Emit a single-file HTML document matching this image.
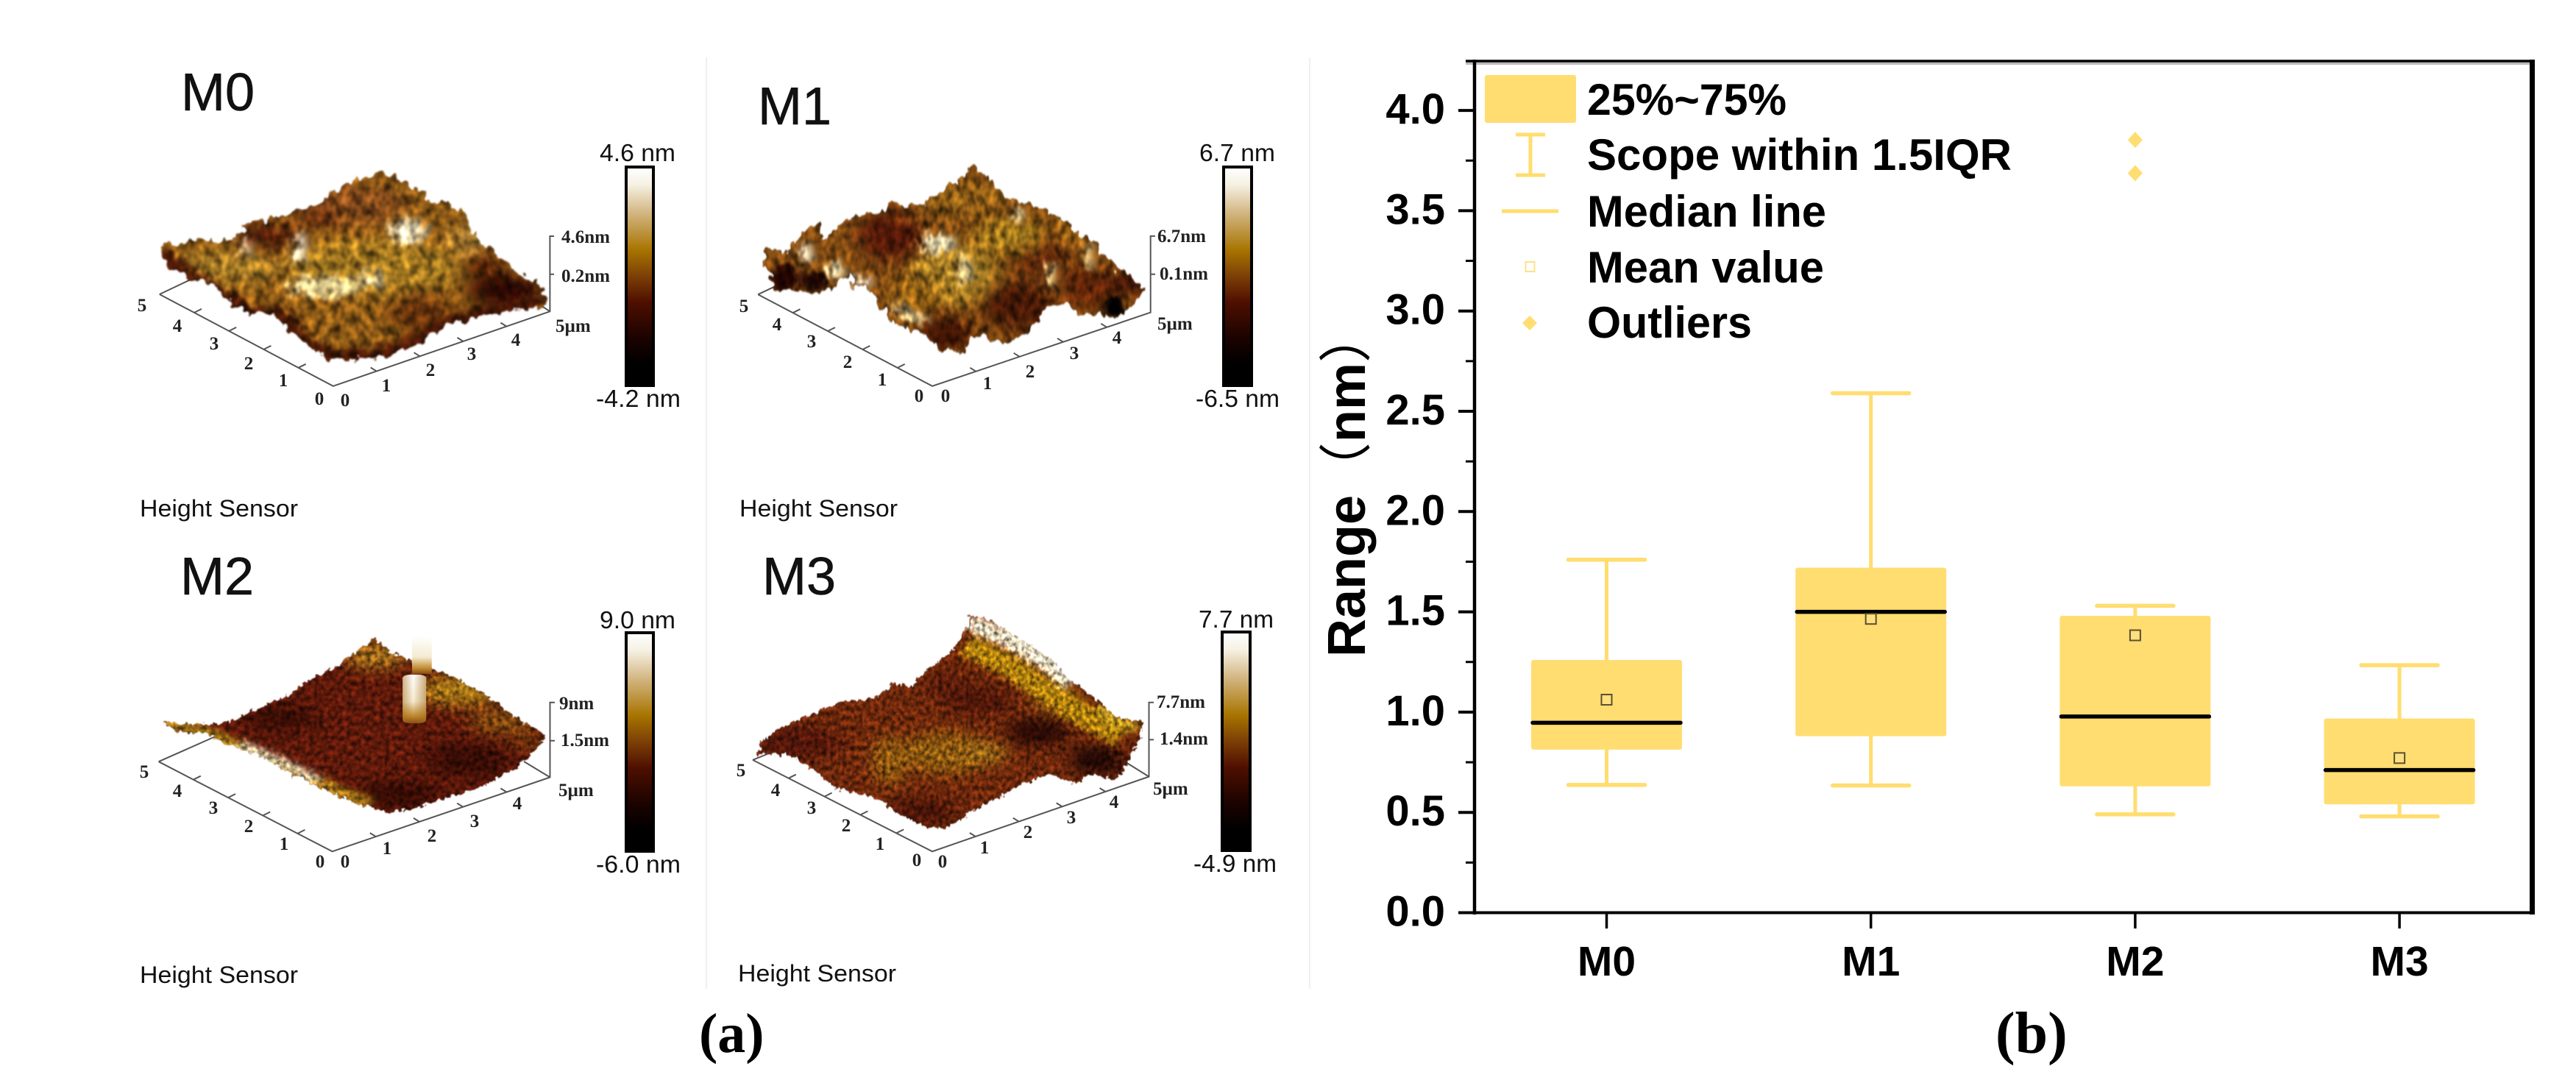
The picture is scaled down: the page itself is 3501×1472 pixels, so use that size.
<!DOCTYPE html>
<html lang="en">
<head>
<meta charset="utf-8">
<title>AFM surfaces and roughness range box plot</title>
<style>
html,body{margin:0;padding:0;background:#fff;}
body{width:3501px;height:1472px;overflow:hidden;}
svg{display:block;}
.sans{font-family:"Liberation Sans",sans-serif;fill:#111;}
.panel{font-size:72px;}
.sensor{font-size:32px;}
.cb{font-size:33px;}
.t{font-family:"Liberation Serif",serif;font-weight:700;font-size:25px;fill:#222;text-anchor:middle;}
.z{font-family:"Liberation Serif",serif;font-weight:700;font-size:25px;fill:#222;}
.ax{stroke:#555;stroke-width:2;fill:none;}
.cbar{fill:url(#cbar-grad);stroke:#000;stroke-width:4;}
.cap{font-family:"Liberation Serif",serif;font-weight:700;fill:#000;}
.b{font-family:"Liberation Sans","Noto Sans CJK SC",sans-serif;font-weight:700;fill:#000;}
</style>
</head>
<body>
<svg id="figure" xmlns="http://www.w3.org/2000/svg" width="3501" height="1472" viewBox="0 0 3501 1472">
<defs>
  <linearGradient id="cbar-grad" x1="0" y1="0" x2="0" y2="1">
    <stop offset="0" stop-color="#ffffff"/>
    <stop offset=".08" stop-color="#f6f1e4"/>
    <stop offset=".22" stop-color="#d0b27a"/>
    <stop offset=".38" stop-color="#a87400"/>
    <stop offset=".5" stop-color="#7c3f06"/>
    <stop offset=".62" stop-color="#4e0f00"/>
    <stop offset=".78" stop-color="#1c0300"/>
    <stop offset=".9" stop-color="#000000"/>
    <stop offset="1" stop-color="#000000"/>
  </linearGradient>
  <linearGradient id="pillar-grad" x1="0" y1="0" x2="0" y2="1">
    <stop offset="0" stop-color="#ffffff"/>
    <stop offset=".55" stop-color="#f5ebd2"/>
    <stop offset=".85" stop-color="#c08a30"/>
    <stop offset="1" stop-color="#8a4a14"/>
  </linearGradient>
  <linearGradient id="pillar-side" x1="0" y1="0" x2="1" y2="0">
    <stop offset="0" stop-color="#a06a14" stop-opacity=".5"/>
    <stop offset=".45" stop-color="#a06a14" stop-opacity="0"/>
    <stop offset="1" stop-color="#a06a14" stop-opacity=".55"/>
  </linearGradient>
  <filter id="soft" x="-40%" y="-40%" width="180%" height="180%" color-interpolation-filters="sRGB"><feGaussianBlur stdDeviation="20"/></filter>
  <filter id="soft-small" x="-40%" y="-40%" width="180%" height="180%" color-interpolation-filters="sRGB"><feGaussianBlur stdDeviation="9"/></filter>
  <filter id="afm-coarse" x="-8%" y="-8%" width="116%" height="116%" color-interpolation-filters="sRGB">
    <feTurbulence type="fractalNoise" baseFrequency="0.055 0.032" numOctaves="2" seed="7" result="n"/>
    <feDisplacementMap in="SourceGraphic" in2="n" scale="44" xChannelSelector="R" yChannelSelector="G" result="d"/>
    <feColorMatrix in="n" type="matrix" values=".95 0 0 0 .03 .95 0 0 0 .03 .95 0 0 0 .03 0 0 0 0 1" result="g"/>
    <feComposite in="d" in2="g" operator="arithmetic" k1="2" k2="0" k3="0" k4="0" result="c"/>
    <feGaussianBlur in="c" stdDeviation="1.5 2.5"/>
  </filter>
  <filter id="afm-fine" x="-8%" y="-8%" width="116%" height="116%" color-interpolation-filters="sRGB">
    <feTurbulence type="fractalNoise" baseFrequency="0.1 0.07" numOctaves="2" seed="11" result="n"/>
    <feDisplacementMap in="SourceGraphic" in2="n" scale="24" xChannelSelector="R" yChannelSelector="G" result="d"/>
    <feColorMatrix in="n" type="matrix" values=".95 0 0 0 .03 .95 0 0 0 .03 .95 0 0 0 .03 0 0 0 0 1" result="g"/>
    <feComposite in="d" in2="g" operator="arithmetic" k1="2" k2="0" k3="0" k4="0" result="c"/>
    <feGaussianBlur in="c" stdDeviation="1.2 1.8"/>
  </filter>
  <clipPath id="m0-clip"><polygon points="815,490 900,560 985,610 1020,690 1060,730 1100,780 1150,820 1165,880 1130,885 1060,900 1000,920 970,925 920,965 880,1000 810,1030 700,1035 660,990 620,960 580,900 510,900 470,840 440,810 400,800 360,770 340,705 420,690 500,700 520,650 620,610 680,590 710,550"/></clipPath>
  <clipPath id="m1-clip"><polygon points="690,475 760,560 830,590 910,630 960,680 1010,720 1060,780 1120,835 1090,880 1060,900 1040,925 1000,900 960,910 930,870 880,890 820,950 790,985 750,990 700,960 660,1015 600,1010 560,960 490,930 450,880 430,830 390,830 370,790 340,830 280,845 240,830 190,835 170,770 155,720 220,720 290,640 310,690 380,630 490,590 560,590 660,510"/></clipPath>
  <clipPath id="m2-clip"><polygon points="800,290 830,330 900,370 960,400 1030,450 1090,510 1165,570 1130,630 1100,660 1040,710 960,745 880,780 830,790 760,765 700,730 620,680 560,630 480,590 440,565 380,560 345,530 420,540 490,530 560,490 620,450 660,410 720,370 770,320"/></clipPath>
  <clipPath id="m3-clip"><polygon points="680,225 720,235 800,290 880,350 930,410 1000,470 1050,520 1115,530 1100,590 1060,680 1040,695 980,680 950,710 880,680 830,700 770,735 710,770 620,835 570,835 490,790 450,750 380,730 340,720 270,650 220,625 145,625 160,585 210,545 280,510 370,470 440,465 490,420 530,430 570,385 640,320 670,260"/></clipPath>
</defs>

<rect width="3501" height="1472" fill="#fff"/>
<line x1="960" y1="78" x2="960" y2="1344" stroke="#f0f0f0" stroke-width="2"/>
<line x1="1780" y1="78" x2="1780" y2="1344" stroke="#f0f0f0" stroke-width="2"/>

<!-- M0 -->
<g>
  <text class="sans panel" x="246" y="150" stroke="#111" stroke-width=".6">M0</text>
  <path class="ax" d="M216.8 400L452.8 524.8L747.4 423.3L747.4 321L753 321M747.4 372.8L753 372.8M216.8 400L280 370M747.4 423.3L712 400"/>
  <path class="ax" d="M405.6 499.8l10 -5M358.4 474.9l10 -5M311.2 449.9l10 -5M264 424.9l10 -5M511.7 504.5l-8 -5M570.6 484.2l-8 -5M629.5 463.9l-8 -5M688.4 443.6l-8 -5"/>
  <g transform="scale(.6378,.4719)"><g filter="url(#afm-coarse)"><g clip-path="url(#m0-clip)">
    <rect x="300" y="450" width="900" height="620" fill="#8a5816"/>
    <g filter="url(#soft)">
      <ellipse cx="750" cy="590" rx="120" ry="60" fill="#80481a"/>
      <ellipse cx="570" cy="680" rx="70" ry="36" fill="#4a1808"/>
      <ellipse cx="680" cy="630" rx="50" ry="26" fill="#652c0e"/>
      <ellipse cx="800" cy="770" rx="190" ry="80" fill="#a07620"/>
      <ellipse cx="480" cy="770" rx="120" ry="44" fill="#a47a26"/>
      <ellipse cx="1000" cy="690" rx="40" ry="40" fill="#a87e34"/>
      <ellipse cx="1080" cy="840" rx="80" ry="50" fill="#2c0803"/>
      <ellipse cx="1030" cy="770" rx="40" ry="40" fill="#522006"/>
      <ellipse cx="900" cy="900" rx="70" ry="60" fill="#64320c"/>
      <ellipse cx="590" cy="930" rx="40" ry="30" fill="#5c2e0c"/>
    </g>
    <g filter="url(#soft-small)">
      <polyline points="345,730 400,790 470,850 520,900 590,910 650,990 705,1030 810,1025 880,990 930,950 1000,915 1060,895 1150,875" fill="none" stroke="#441606" stroke-width="44"/>
      <ellipse cx="870" cy="665" rx="40" ry="36" fill="#e8dab4"/>
      <ellipse cx="690" cy="825" rx="75" ry="30" fill="#dcc88c"/>
      <ellipse cx="790" cy="805" rx="28" ry="22" fill="#d8c492"/>
      <ellipse cx="640" cy="715" rx="10" ry="46" fill="#fff8e8"/>
      <ellipse cx="525" cy="712" rx="8" ry="30" fill="#e8d2b0"/>
    </g>
  </g></g></g>
  <rect class="cbar" x="851" y="227" width="37" height="297"/>
  <text class="sans cb" x="815" y="219" textLength="103" lengthAdjust="spacingAndGlyphs">4.6 nm</text>
  <text class="sans cb" x="810" y="553" textLength="115" lengthAdjust="spacingAndGlyphs">-4.2 nm</text>
  <text class="t" x="193" y="423">5</text>
  <text class="t" x="241" y="451">4</text>
  <text class="t" x="291" y="475">3</text>
  <text class="t" x="338" y="502">2</text>
  <text class="t" x="385" y="525">1</text>
  <text class="t" x="434" y="550">0</text>
  <text class="t" x="469" y="552">0</text>
  <text class="t" x="525" y="532">1</text>
  <text class="t" x="585" y="511">2</text>
  <text class="t" x="641" y="489">3</text>
  <text class="t" x="701" y="470">4</text>
  <text class="z" x="755" y="451">5µm</text>
  <text class="z" x="763" y="330">4.6nm</text>
  <text class="z" x="763" y="383">0.2nm</text>
  <text class="sans sensor" x="190" y="702" textLength="215" lengthAdjust="spacingAndGlyphs">Height Sensor</text>
</g>

<!-- M1 -->
<g>
  <text class="sans panel" x="1030" y="169" stroke="#111" stroke-width=".6">M1</text>
  <path class="ax" d="M1030.2 400.2L1267.1 524.8L1563.7 424.7L1563.7 320.9L1570 320.9M1563.7 372.8L1570 372.8M1030.2 400.2L1090 372"/>
  <path class="ax" d="M1219.7 499.9l10 -5M1172.3 475l10 -5M1124.9 450.1l10 -5M1077.5 425.2l10 -5M1326.4 504.8l-8 -5M1385.7 484.8l-8 -5M1445 464.8l-8 -5M1504.3 444.8l-8 -5"/>
  <g transform="translate(950,0) scale(.5421,.4719)"><g filter="url(#afm-coarse)"><g clip-path="url(#m1-clip)">
    <rect x="100" y="440" width="1100" height="620" fill="#7c4812"/>
    <g filter="url(#soft)">
      <ellipse cx="660" cy="570" rx="110" ry="50" fill="#8c5c16"/>
      <ellipse cx="480" cy="680" rx="80" ry="70" fill="#501808"/>
      <ellipse cx="850" cy="730" rx="70" ry="70" fill="#5e280a"/>
      <ellipse cx="640" cy="790" rx="110" ry="90" fill="#a07822"/>
      <ellipse cx="780" cy="680" rx="90" ry="50" fill="#96701a"/>
      <ellipse cx="800" cy="880" rx="90" ry="70" fill="#441806"/>
      <ellipse cx="620" cy="960" rx="70" ry="50" fill="#401404"/>
      <ellipse cx="540" cy="850" rx="70" ry="50" fill="#905e14"/>
      <ellipse cx="980" cy="820" rx="70" ry="70" fill="#5e2408"/>
      <ellipse cx="940" cy="660" rx="60" ry="40" fill="#905c14"/>
      <ellipse cx="1000" cy="740" rx="50" ry="40" fill="#7c4810"/>
      <ellipse cx="1080" cy="820" rx="50" ry="30" fill="#401206"/>
    </g>
    <g filter="url(#soft-small)">
      <ellipse cx="600" cy="700" rx="42" ry="30" fill="#e4d6ac"/>
      <ellipse cx="665" cy="775" rx="18" ry="44" fill="#d0bc84"/>
      <ellipse cx="800" cy="615" rx="18" ry="20" fill="#d4c08c"/>
      <ellipse cx="215" cy="800" rx="40" ry="38" fill="#220502"/>
      <ellipse cx="290" cy="810" rx="30" ry="28" fill="#180302"/>
      <ellipse cx="1040" cy="885" rx="30" ry="34" fill="#000"/>
      <ellipse cx="270" cy="730" rx="16" ry="30" fill="#dccfb0"/>
      <ellipse cx="345" cy="780" rx="22" ry="24" fill="#d8cca0"/>
      <ellipse cx="410" cy="810" rx="26" ry="13" fill="#f0e8d4"/>
      <ellipse cx="530" cy="905" rx="56" ry="12" fill="#d8c690" transform="rotate(25 530 905)"/>
      <ellipse cx="885" cy="790" rx="12" ry="34" fill="#c8b47c"/>
      <ellipse cx="980" cy="740" rx="12" ry="38" fill="#c0a870"/>
    </g>
  </g></g></g>
  <rect class="cbar" x="1663" y="227" width="38" height="297"/>
  <text class="sans cb" x="1630" y="219" textLength="103" lengthAdjust="spacingAndGlyphs">6.7 nm</text>
  <text class="sans cb" x="1625" y="553" textLength="114" lengthAdjust="spacingAndGlyphs">-6.5 nm</text>
  <text class="t" x="1011" y="424">5</text>
  <text class="t" x="1056" y="449">4</text>
  <text class="t" x="1103" y="472">3</text>
  <text class="t" x="1152" y="500">2</text>
  <text class="t" x="1199" y="524">1</text>
  <text class="t" x="1249" y="546">0</text>
  <text class="t" x="1285" y="546">0</text>
  <text class="t" x="1342" y="529">1</text>
  <text class="t" x="1400" y="513">2</text>
  <text class="t" x="1460" y="488">3</text>
  <text class="t" x="1518" y="467">4</text>
  <text class="z" x="1573" y="448">5µm</text>
  <text class="z" x="1573" y="329">6.7nm</text>
  <text class="z" x="1576" y="380">0.1nm</text>
  <text class="sans sensor" x="1005" y="702" textLength="215" lengthAdjust="spacingAndGlyphs">Height Sensor</text>
</g>

<!-- M2 -->
<g>
  <text class="sans panel" x="245" y="808" stroke="#111" stroke-width=".6">M2</text>
  <path class="ax" d="M215.6 1035.2L451.6 1157.3L747.5 1056.5L747.5 954.8L754 954.8M747.5 1006.8L754 1006.8M215.6 1035.2L295 1000M747.5 1056.5L712 1035"/>
  <path class="ax" d="M404.4 1132.9l10 -5M357.2 1108.5l10 -5M310 1084.1l10 -5M262.8 1059.7l10 -5M510.8 1137.1l-8 -5M570 1116.9l-8 -5M629.2 1096.7l-8 -5M688.4 1076.5l-8 -5"/>
  <g transform="translate(0,730) scale(.6378,.4732)"><g filter="url(#afm-fine)"><g clip-path="url(#m2-clip)">
    <rect x="300" y="250" width="900" height="580" fill="#5c190a"/>
    <g filter="url(#soft)">
      <ellipse cx="800" cy="340" rx="70" ry="40" fill="#9c6a1a"/>
      <ellipse cx="980" cy="440" rx="90" ry="46" fill="#a07216"/>
      <ellipse cx="1070" cy="530" rx="70" ry="36" fill="#804a10"/>
      <ellipse cx="1130" cy="590" rx="40" ry="30" fill="#70340c"/>
      <ellipse cx="600" cy="520" rx="80" ry="40" fill="#380d05"/>
      <ellipse cx="1000" cy="640" rx="90" ry="50" fill="#360c05"/>
      <ellipse cx="850" cy="740" rx="90" ry="40" fill="#340b04"/>
    </g>
    <g filter="url(#soft-small)">
      <polyline points="350,535 440,560 540,620 640,680 720,730 790,765" fill="none" stroke="#a87c18" stroke-width="30"/>
      <polyline points="510,595 590,640 680,700" fill="none" stroke="#e4dcbc" stroke-width="20"/>
    </g>
  </g></g>
    <rect x="878" y="285" width="42" height="108" fill="url(#pillar-grad)"/>
    <rect x="858" y="395" width="50" height="140" rx="18" ry="10" fill="url(#pillar-grad)"/>
    <rect x="858" y="395" width="50" height="140" rx="18" ry="10" fill="url(#pillar-side)"/>
  </g>
  <rect class="cbar" x="851" y="860" width="37" height="297"/>
  <text class="sans cb" x="815" y="854" textLength="103" lengthAdjust="spacingAndGlyphs">9.0 nm</text>
  <text class="sans cb" x="810" y="1186" textLength="115" lengthAdjust="spacingAndGlyphs">-6.0 nm</text>
  <text class="t" x="196" y="1057">5</text>
  <text class="t" x="241" y="1083">4</text>
  <text class="t" x="290" y="1106">3</text>
  <text class="t" x="338" y="1131">2</text>
  <text class="t" x="386" y="1155">1</text>
  <text class="t" x="435" y="1179">0</text>
  <text class="t" x="469" y="1179">0</text>
  <text class="t" x="526" y="1161">1</text>
  <text class="t" x="587" y="1144">2</text>
  <text class="t" x="645" y="1124">3</text>
  <text class="t" x="703" y="1100">4</text>
  <text class="z" x="759" y="1082">5µm</text>
  <text class="z" x="760" y="964">9nm</text>
  <text class="z" x="762" y="1014">1.5nm</text>
  <text class="sans sensor" x="190" y="1336" textLength="215" lengthAdjust="spacingAndGlyphs">Height Sensor</text>
</g>

<!-- M3 -->
<g>
  <text class="sans panel" x="1036" y="808" stroke="#111" stroke-width=".6">M3</text>
  <path class="ax" d="M1023 1032.9L1267 1157.3L1561.5 1055.6L1561.5 954.8L1568 954.8M1561.5 1005.4L1568 1005.4M1023 1032.9L1060 1018M1561.5 1055.6L1530 1036"/>
  <path class="ax" d="M1218.2 1132.4l10 -5M1169.4 1107.5l10 -5M1120.6 1082.6l10 -5M1071.8 1057.7l10 -5M1325.9 1137l-8 -5M1384.8 1116.7l-8 -5M1443.7 1096.4l-8 -5M1502.6 1076.1l-8 -5"/>
  <g transform="translate(950,730) scale(.5421,.4732)"><g filter="url(#afm-fine)"><g clip-path="url(#m3-clip)">
    <rect x="100" y="200" width="1100" height="680" fill="#6c280c"/>
    <g filter="url(#soft)">
      <ellipse cx="620" cy="620" rx="110" ry="60" fill="#8a5810"/>
      <ellipse cx="480" cy="640" rx="46" ry="70" fill="#8a5610"/>
      <ellipse cx="720" cy="620" rx="56" ry="30" fill="#966816"/>
      <ellipse cx="250" cy="590" rx="110" ry="50" fill="#50160a"/>
      <ellipse cx="560" cy="790" rx="90" ry="40" fill="#481408"/>
      <ellipse cx="850" cy="560" rx="80" ry="40" fill="#280905"/>
      <ellipse cx="1000" cy="640" rx="70" ry="40" fill="#1e0705"/>
      <ellipse cx="700" cy="470" rx="90" ry="40" fill="#4c1609"/>
      <ellipse cx="620" cy="420" rx="60" ry="40" fill="#581c0a"/>
      <ellipse cx="900" cy="470" rx="70" ry="40" fill="#804a0e"/>
    </g>
    <g filter="url(#soft-small)">
      <polyline points="670,310 780,370 870,440 960,510 1060,570" fill="none" stroke="#ac7e0e" stroke-width="64"/>
      <polyline points="680,245 780,295 880,365 930,420" fill="none" stroke="#f0e6c8" stroke-width="44"/>
      <polyline points="1000,490 1050,530 1100,550" fill="none" stroke="#bc9820" stroke-width="30"/>
    </g>
  </g></g></g>
  <rect class="cbar" x="1661" y="859" width="38" height="297"/>
  <text class="sans cb" x="1629" y="853" textLength="102" lengthAdjust="spacingAndGlyphs">7.7 nm</text>
  <text class="sans cb" x="1622" y="1185" textLength="113" lengthAdjust="spacingAndGlyphs">-4.9 nm</text>
  <text class="t" x="1007" y="1055">5</text>
  <text class="t" x="1054" y="1082">4</text>
  <text class="t" x="1103" y="1106">3</text>
  <text class="t" x="1150" y="1130">2</text>
  <text class="t" x="1196" y="1155">1</text>
  <text class="t" x="1246" y="1177">0</text>
  <text class="t" x="1281" y="1179">0</text>
  <text class="t" x="1338" y="1160">1</text>
  <text class="t" x="1397" y="1139">2</text>
  <text class="t" x="1456" y="1119">3</text>
  <text class="t" x="1514" y="1098">4</text>
  <text class="z" x="1567" y="1080">5µm</text>
  <text class="z" x="1572" y="962">7.7nm</text>
  <text class="z" x="1576" y="1012">1.4nm</text>
  <text class="sans sensor" x="1003" y="1334" textLength="215" lengthAdjust="spacingAndGlyphs">Height Sensor</text>
</g>

<text class="cap" x="950" y="1430" font-size="76">(a)</text>
<text class="cap" x="2712" y="1431" font-size="80">(b)</text>

<!-- Box plot -->
<g id="boxplot">
  <text class="b" transform="translate(1855,893) rotate(-90)" font-size="72">Range<tspan font-weight="400">（</tspan>nm<tspan font-weight="400">）</tspan></text>
  <g id="marks"></g>
  <g id="frame">
    <line x1="1992" y1="86.5" x2="3438" y2="86.5" stroke="#bbb" stroke-width="3"/>
    <line x1="1992" y1="83" x2="3445" y2="83" stroke="#000" stroke-width="3.5"/>
    <line x1="3441.5" y1="81" x2="3441.5" y2="1243" stroke="#000" stroke-width="7"/>
    <line x1="1982" y1="1240.5" x2="3445" y2="1240.5" stroke="#000" stroke-width="4"/>
    <line x1="2004" y1="81" x2="2004" y2="1243" stroke="#000" stroke-width="4.5"/>
  </g>
  <g id="ticks"></g>
  <g>
    <g>
      <rect x="2018" y="102" width="124" height="65" rx="3" fill="#ffdd70"/>
      <text class="b" x="2157" y="156" font-size="60" textLength="271" lengthAdjust="spacingAndGlyphs">25%~75%</text>
    </g>
    <g>
      <path d="M2060 183H2100M2080 183V238M2060 238H2100" fill="none" stroke="#ffdd70" stroke-width="5"/>
      <text class="b" x="2157" y="231" font-size="60" textLength="577" lengthAdjust="spacingAndGlyphs">Scope within 1.5IQR</text>
    </g>
    <g>
      <line x1="2041" y1="287" x2="2118" y2="287" stroke="#ffdd70" stroke-width="5"/>
      <text class="b" x="2157" y="308" font-size="60" textLength="325" lengthAdjust="spacingAndGlyphs">Median line</text>
    </g>
    <g>
      <rect x="2073.5" y="356" width="12" height="13" fill="#fff" stroke="#ffe08a" stroke-width="2"/>
      <text class="b" x="2157" y="384" font-size="60" textLength="322" lengthAdjust="spacingAndGlyphs">Mean value</text>
    </g>
    <g>
      <polygon points="2079,429 2089,439 2079,449 2069,439" fill="#ffdd70"/>
      <text class="b" x="2157" y="459" font-size="60" textLength="224" lengthAdjust="spacingAndGlyphs">Outliers</text>
    </g>
  </g>
</g>
</svg>
<script>
const categories = ['M0', 'M1', 'M2', 'M3'];
const whiskerHigh = [1.76, 2.59, 1.53, 1.234];
const boxTop = [1.26, 1.72, 1.48, 0.968];
const medians = [0.947, 1.50, 0.978, 0.711];
const means = [1.062, 1.465, 1.383, 0.771];
const boxBottom = [0.813, 0.88, 0.63, 0.54];
const whiskerLow = [0.637, 0.634, 0.49, 0.48];
const outliersM2 = [3.853, 3.687];
const yTickLabels = ['0.0', '0.5', '1.0', '1.5', '2.0', '2.5', '3.0', '3.5', '4.0'];
const yMinorTicks = [0.25, 0.75, 1.25, 1.75, 2.25, 2.75, 3.25, 3.75];

const NS = 'http://www.w3.org/2000/svg';
const AMBER = '#ffdd70';
function yScale(v) { return 1240.5 - 272.6 * v; }
function xScale(i) { return 2183.5 + 359.2 * i; }
function make(parent, tag, attrs, text) {
  const el = document.createElementNS(NS, tag);
  for (const k in attrs) el.setAttribute(k, attrs[k]);
  if (text !== undefined) el.textContent = text;
  parent.appendChild(el);
  return el;
}
const marks = document.getElementById('marks');
const ticks = document.getElementById('ticks');
const BOX_W = 205, CAP_W = 104;

categories.forEach(function (name, i) {
  const cx = xScale(i);
  const g = make(marks, 'g', {});
  
  

  const stem = make(g, 'line', { x1: cx, x2: cx, y1: yScale(whiskerHigh[i]), y2: yScale(whiskerLow[i]), stroke: AMBER, 'stroke-width': 5 });
  
  

  const capHigh = make(g, 'line', { x1: cx - CAP_W / 2, x2: cx + CAP_W / 2, y1: yScale(whiskerHigh[i]), y2: yScale(whiskerHigh[i]), stroke: AMBER, 'stroke-width': 5.5, 'stroke-linecap': 'round' });
  
  

  const capLow = make(g, 'line', { x1: cx - CAP_W / 2, x2: cx + CAP_W / 2, y1: yScale(whiskerLow[i]), y2: yScale(whiskerLow[i]), stroke: AMBER, 'stroke-width': 5.5, 'stroke-linecap': 'round' });
  
  

  const box = make(g, 'rect', { x: cx - BOX_W / 2, y: yScale(boxTop[i]), width: BOX_W, height: yScale(boxBottom[i]) - yScale(boxTop[i]), rx: 3, fill: AMBER });
  
  

  const med = make(g, 'line', { x1: cx - BOX_W / 2 + 2, x2: cx + BOX_W / 2 - 2, y1: yScale(medians[i]), y2: yScale(medians[i]), stroke: '#000', 'stroke-width': 5.5, 'stroke-linecap': 'round' });
  
  

  const mean = make(g, 'rect', { x: cx - 7, y: yScale(means[i]) - 7, width: 14, height: 14, fill: '#ffe07e', stroke: '#5a5030', 'stroke-width': 2 });
  
  

  const tick = make(ticks, 'line', { x1: cx, x2: cx, y1: 1240.5, y2: 1262, stroke: '#000', 'stroke-width': 3.5 });
  
  

  const label = make(ticks, 'text', { x: cx, y: 1326, 'text-anchor': 'middle', 'font-size': 57, class: 'b' }, name);
  
  
});

outliersM2.forEach(function (v, k) {
  const cx = xScale(2), cy = yScale(v);
  const d = make(marks, 'polygon', { points: [cx, cy - 11, cx + 10, cy, cx, cy + 11, cx - 10, cy].join(' '), fill: AMBER });
  
  
});

yTickLabels.forEach(function (t) {
  const y = yScale(parseFloat(t));
  const line = make(ticks, 'line', { x1: 1982, x2: 2004, y1: y, y2: y, stroke: '#000', 'stroke-width': 4 });
  
  
  const label = make(ticks, 'text', { x: 1964, y: y + 18, 'text-anchor': 'end', 'font-size': 58, class: 'b' }, t);
  
  
});

yMinorTicks.forEach(function (v) {
  const y = yScale(v);
  const line = make(ticks, 'line', { x1: 1992, x2: 2004, y1: y, y2: y, stroke: '#000', 'stroke-width': 3 });
  
  
});
</script>
</body>
</html>
